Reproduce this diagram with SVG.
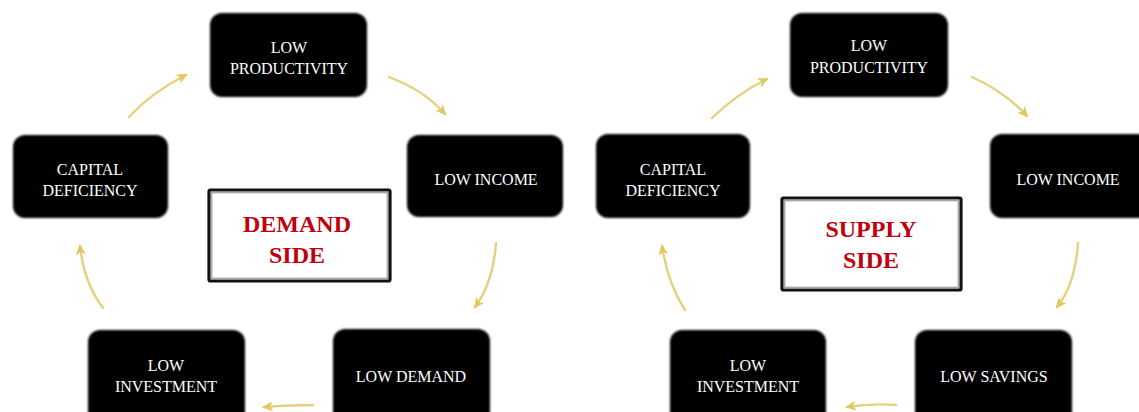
<svg xmlns="http://www.w3.org/2000/svg" width="1139" height="412" viewBox="0 0 1139 412">
  <style>
    .box { fill: #000; filter: url(#soft); }
    .lbl { font-family: "Liberation Serif", "DejaVu Serif", serif; font-size: 16px; fill: #fff; text-anchor: middle; }
    .title-box { fill: #fff; stroke: #111; stroke-width: 3.2; }
    .title-in { fill: none; stroke: #a8a8a8; stroke-width: 1.6; }
    .title { font-family: "Liberation Serif", "DejaVu Serif", serif; font-size: 24px; font-weight: bold; fill: #c0000c; text-anchor: middle; }
    .arrow { fill: none; stroke: #e3d17c; stroke-width: 2.4; stroke-linecap: round; marker-end: url(#head); }
  </style>
  <defs>
    <filter id="soft" x="-10%" y="-10%" width="120%" height="120%">
      <feGaussianBlur stdDeviation="1.1"/>
    </filter>
    <marker id="head" viewBox="0 0 12 12" refX="9" refY="6" markerWidth="12" markerHeight="12" markerUnits="userSpaceOnUse" orient="auto">
      <path d="M0,1 L11,6 L0,11 L3,6 Z" fill="#dfc95e"/>
    </marker>
  </defs>

  <rect width="1139" height="412" fill="#fff"/>

  <!-- Connectors -->
  <g id="connectors">
    <!-- demand-side cycle -->
    <path class="arrow" d="M129,117 Q152,92 186,75"/>
    <path class="arrow" d="M389,77 Q424,90 445,114"/>
    <path class="arrow" d="M496,243 Q493,283 475,307"/>
    <path class="arrow" d="M313,405 Q290,405 264,407"/>
    <path class="arrow" d="M103,308 Q84,283 80,246"/>
    <!-- supply-side cycle -->
    <path class="arrow" d="M712,118 Q738,93 767,79"/>
    <path class="arrow" d="M972,77 Q1005,92 1027,116"/>
    <path class="arrow" d="M1078,243 Q1075,285 1057,307"/>
    <path class="arrow" d="M896,405 Q872,403 847,407"/>
    <path class="arrow" d="M685,310 Q668,284 662,246"/>
  </g>

  <!-- Demand side -->
  <g id="d-productivity">
    <rect class="box" x="210" y="13" width="157" height="84" rx="12"/>
    <text class="lbl" x="289" y="53">LOW</text>
    <text class="lbl" x="289" y="74">PRODUCTIVITY</text>
  </g>
  <g id="d-income">
    <rect class="box" x="407" y="135" width="156" height="82" rx="12"/>
    <text class="lbl" x="486" y="185">LOW INCOME</text>
  </g>
  <g id="d-demand">
    <rect class="box" x="333" y="329" width="157" height="95" rx="12"/>
    <text class="lbl" x="411" y="382">LOW DEMAND</text>
  </g>
  <g id="d-investment">
    <rect class="box" x="88" y="330" width="157" height="95" rx="12"/>
    <text class="lbl" x="166" y="371">LOW</text>
    <text class="lbl" x="166" y="392">INVESTMENT</text>
  </g>
  <g id="d-capital">
    <rect class="box" x="13" y="135" width="155" height="83" rx="12"/>
    <text class="lbl" x="90" y="175">CAPITAL</text>
    <text class="lbl" x="90" y="196">DEFICIENCY</text>
  </g>
  <g id="demand-title">
    <rect class="title-box" x="209" y="190" width="181" height="91" rx="1.5"/>
    <rect class="title-in" x="211.6" y="192.6" width="175.8" height="85.8"/>
    <text class="title" x="297" y="232">DEMAND</text>
    <text class="title" x="297" y="263">SIDE</text>
  </g>

  <!-- Supply side -->
  <g id="s-productivity">
    <rect class="box" x="790" y="13" width="158" height="84" rx="12"/>
    <text class="lbl" x="869" y="51">LOW</text>
    <text class="lbl" x="869" y="73">PRODUCTIVITY</text>
  </g>
  <g id="s-income">
    <rect class="box" x="990" y="134" width="160" height="84" rx="12"/>
    <text class="lbl" x="1068" y="185">LOW INCOME</text>
  </g>
  <g id="s-savings">
    <rect class="box" x="915" y="330" width="157" height="95" rx="12"/>
    <text class="lbl" x="994" y="382">LOW SAVINGS</text>
  </g>
  <g id="s-investment">
    <rect class="box" x="670" y="330" width="156" height="95" rx="12"/>
    <text class="lbl" x="748" y="371">LOW</text>
    <text class="lbl" x="748" y="392">INVESTMENT</text>
  </g>
  <g id="s-capital">
    <rect class="box" x="596" y="134" width="154" height="84" rx="12"/>
    <text class="lbl" x="673" y="175">CAPITAL</text>
    <text class="lbl" x="673" y="196">DEFICIENCY</text>
  </g>
  <g id="supply-title">
    <rect class="title-box" x="782" y="198" width="179" height="92" rx="1.5"/>
    <rect class="title-in" x="784.6" y="200.6" width="173.8" height="86.8"/>
    <text class="title" x="871" y="237">SUPPLY</text>
    <text class="title" x="871" y="268">SIDE</text>
  </g>
</svg>
